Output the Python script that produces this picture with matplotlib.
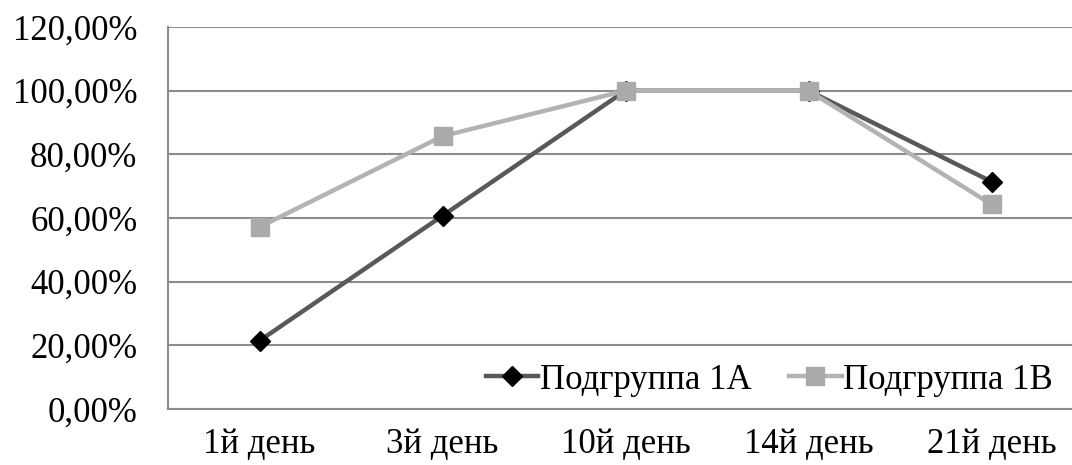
import matplotlib.pyplot as plt
from matplotlib.ticker import FuncFormatter

days = ['1й день', '3й день', '10й день', '14й день', '21й день']
group_1a = [21.43, 60.71, 100.0, 100.0, 71.43]
group_1b = [57.14, 85.71, 100.0, 100.0, 64.29]
labels = ['Подгруппа 1А', 'Подгруппа 1В']

plt.rcParams['font.family'] = ['Liberation Serif', 'DejaVu Serif']

fig = plt.figure(figsize=(10.72, 4.65), dpi=100)
ax = fig.add_axes([168 / 1072, 1 - 409 / 465, (1083 - 168) / 1072, (409 - 27) / 465])

x = list(range(len(days)))
ax.plot(x, group_1a, color='#595959', linewidth=3.2, marker='D', markersize=10,
        markerfacecolor='black', markeredgecolor='black', label=labels[0], zorder=3)
ax.plot(x, group_1b, color='#b3b3b3', linewidth=3.2, marker='s', markersize=13,
        markerfacecolor='#aaaaaa', markeredgecolor='#aaaaaa', label=labels[1], zorder=3)

ax.set_xlim(-0.5, 4.5)
ax.set_ylim(0, 120)
ax.set_yticks(range(0, 121, 20))
ax.yaxis.set_major_formatter(FuncFormatter(lambda v, p: f'{v:.2f}%'.replace('.', ',')))
ax.set_xticks(x)
ax.set_xticklabels(days)
ax.tick_params(axis='both', length=0, labelsize=25, colors='black')
ax.tick_params(axis='y', pad=22)
ax.tick_params(axis='x', pad=14)

ax.grid(axis='y', color='#8c8c8c', linewidth=1.5)
ax.set_axisbelow(True)
for side in ['top', 'right']:
    ax.spines[side].set_visible(False)
for side in ['left', 'bottom']:
    ax.spines[side].set_color('#8c8c8c')
    ax.spines[side].set_linewidth(1.5)

ax.legend(loc='center right', ncol=2, frameon=False, fontsize=25, handlelength=1.5,
          handletextpad=0.05, columnspacing=1.1, borderaxespad=0, borderpad=0)
leg = ax.get_legend()
leg.set_bbox_to_anchor((1053 / 1072, 1 - 380 / 465), transform=fig.transFigure)

plt.savefig('out.png', dpi=100)
